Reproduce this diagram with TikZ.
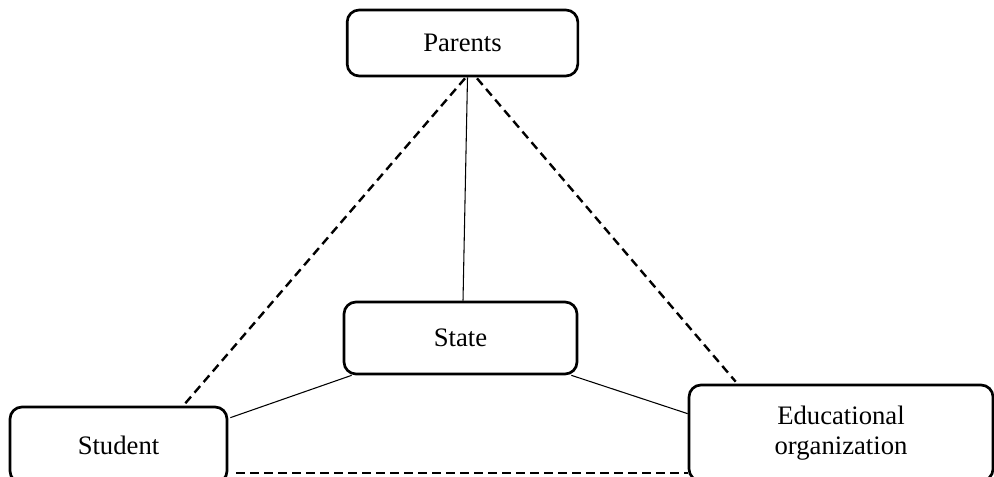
\documentclass[tikz,border=0pt]{standalone}
\usepackage{fontspec}
\setmainfont{Liberation Serif}
\usetikzlibrary{calc}

\begin{document}
\begin{tikzpicture}[x=0.75pt, y=0.75pt,
	box/.style={draw, line width=2pt, rounded corners=9pt, inner sep=0pt, align=center,
		font=\fontsize{20}{22.5}\selectfont},
	link/.style={line width=0.8pt},
	dashlink/.style={line width=1.8pt, dash pattern=on 6.5pt off 4pt}]
			%%%%% START %%%%%
			
			\clip (0, 0) rectangle (994, 477);
			
			\node[box, minimum width=173pt, minimum height=49.5pt] (par) at (462.5, 434) {Parents};
			\node[box, minimum width=174.75pt, minimum height=54pt] (state) at (460.5, 139) {State};
			\node[box, minimum width=162.75pt, minimum height=57pt] (stud) at (118.5, 32) {Student};
			\node[box, minimum width=228pt, minimum height=72pt] (edu) at (841, 44) {Educational\\organization};
			
			\draw[link] ($(par.south)+(5, 0)$) -- ($(state.north)+(2.5, 0)$);
			\draw[dashlink] ($(par.south)+(2.5, -1)$) -- ($(stud.north)+(66.5, 2)$);
			\draw[dashlink] ($(par.south)+(14.5, -1)$) -- ($(edu.north west)+(48, 2)$);
			
			\draw[link] ($(state.south west)+(9, 0)$) -- ($(stud.north east)+(2, -12)$);
			\draw[link] ($(state.south east)+(-7, 0)$) -- ($(edu.north west)+(0, -30)$);
			
			\draw[dashlink] ($(stud.east)+(8, -28)$) -- ($(edu.west)+(0, -40)$);
			
			%%%%% END %%%%%
		\end{tikzpicture}
\end{document}
